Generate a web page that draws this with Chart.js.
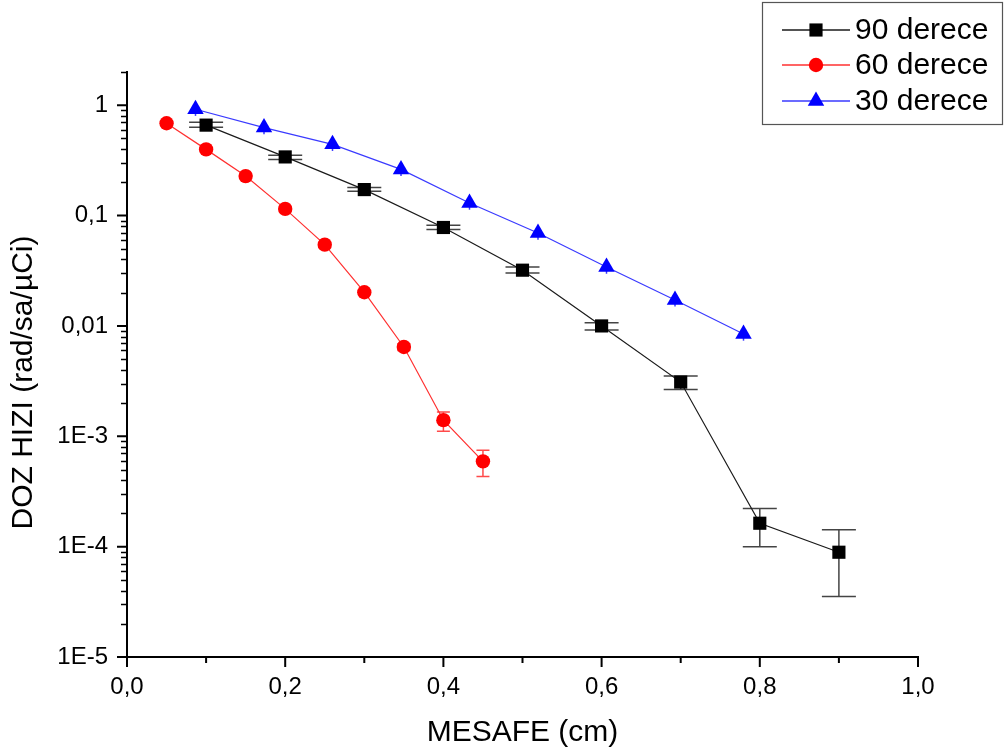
<!DOCTYPE html>
<html><head><meta charset="utf-8">
<script src="https://cdn.jsdelivr.net/npm/chart.js@4/dist/chart.umd.min.js"></script>
<style>html,body{margin:0;padding:0;background:#fff}#wrap{width:1007px;height:755px;position:relative}</style>
</head><body><div id="wrap"><canvas id="c" width="1007" height="755"></canvas></div>
<script>
const seriesNames = ['90 derece', '60 derece', '30 derece'];
const xTitle = 'MESAFE (cm)';
const yTitle = 'DOZ HIZI (rad/sa/µCi)';

const x90 = [0.1, 0.2, 0.3, 0.4, 0.5, 0.6, 0.7, 0.8, 0.9];
const y90 = [0.66, 0.34, 0.172, 0.078, 0.032, 0.0100, 0.0031, 1.63e-4, 8.9e-5];
const y90Hi = [0.70, 0.353, 0.180, 0.0816, 0.0342, 0.0107, 0.00351, 2.22e-4, 1.42e-4];
const y90Lo = [0.63, 0.323, 0.166, 0.0746, 0.0301, 0.0092, 0.00266, 1.0e-4, 3.53e-5];

const x60 = [0.05, 0.10, 0.15, 0.20, 0.25, 0.30, 0.35, 0.40, 0.45];
const y60 = [0.686, 0.398, 0.228, 0.115, 0.0545, 0.0202, 0.00645, 0.0014, 5.93e-4];
const y60Hi = [null, null, null, null, null, null, 0.0069, 0.00166, 7.46e-4];
const y60Lo = [null, null, null, null, null, null, 0.0060, 0.00111, 4.33e-4];

const x30 = [0.0866, 0.1732, 0.2598, 0.3464, 0.4330, 0.5196, 0.6062, 0.6928, 0.7794];
const y30 = [0.92, 0.627, 0.442, 0.262, 0.130, 0.0696, 0.0342, 0.0172, 0.00845];
const y30Hi = [null, null, null, null, null, null, null, null, null];
const y30Lo = [0.80, 0.545, 0.385, 0.228, 0.113, 0.0605, 0.0297, 0.0150, 0.00735];

const xTickValues = [0.0, 0.2, 0.4, 0.6, 0.8, 1.0];
const xTickLabels = ['0,0', '0,2', '0,4', '0,6', '0,8', '1,0'];
const xMinorValues = [0.1, 0.3, 0.5, 0.7, 0.9];
const yTickValues = [1e-5, 1e-4, 1e-3, 0.01, 0.1, 1];
const yTickLabels = ['1E-5', '1E-4', '1E-3', '0,01', '0,1', '1'];
const yMinorMultipliers = [2, 3, 4, 5, 6, 7, 8, 9];

const FONT = "'Liberation Sans', Arial, sans-serif";

function pts(xs, ys) { return xs.map((x, i) => ({x: x, y: ys[i]})); }

const styles = [
  {line: '#1a1a1a', fill: '#000000', shape: 'rect', r: 9.3, err: '#444444', cap: 34, lo: y90Lo, hi: y90Hi},
  {line: '#ff3030', fill: '#ff0000', shape: 'circle', r: 7.2, err: '#ff4a4a', cap: 13, lo: y60Lo, hi: y60Hi},
  {line: '#3a3aff', fill: '#0000ff', shape: 'triangle', r: 9.5, err: '#3a3aff', cap: 0, lo: y30Lo, hi: y30Hi}
];

const errorBars = {
  id: 'errorBars',
  beforeDatasetsDraw(chart) {
    const ctx = chart.ctx, xs = chart.scales.x, ys = chart.scales.y;
    chart.data.datasets.forEach((ds, di) => {
      const st = styles[di];
      ctx.save();
      ctx.strokeStyle = st.err;
      ctx.lineWidth = 1.5;
      ds.data.forEach((p, i) => {
        const lo = st.lo[i] == null ? p.y : st.lo[i];
        const hi = st.hi[i] == null ? p.y : st.hi[i];
        if (lo === p.y && hi === p.y) return;
        const px = xs.getPixelForValue(p.x);
        const pyl = ys.getPixelForValue(lo), pyh = ys.getPixelForValue(hi);
        ctx.beginPath();
        ctx.moveTo(px, pyl); ctx.lineTo(px, pyh);
        if (st.cap > 0) {
          if (st.lo[i] != null) { ctx.moveTo(px - st.cap / 2, pyl); ctx.lineTo(px + st.cap / 2, pyl); }
          if (st.hi[i] != null) { ctx.moveTo(px - st.cap / 2, pyh); ctx.lineTo(px + st.cap / 2, pyh); }
        }
        ctx.stroke();
      });
      ctx.restore();
    });
  }
};

const axisTicks = {
  id: 'axisTicks',
  afterDraw(chart) {
    const ctx = chart.ctx, xs = chart.scales.x, ys = chart.scales.y, a = chart.chartArea;
    ctx.save();
    ctx.strokeStyle = '#000';
    ctx.lineWidth = 2;
    ctx.beginPath();
    xTickValues.forEach(v => { const p = xs.getPixelForValue(v); ctx.moveTo(p, a.bottom); ctx.lineTo(p, a.bottom + 10); });
    xMinorValues.forEach(v => { const p = xs.getPixelForValue(v); ctx.moveTo(p, a.bottom); ctx.lineTo(p, a.bottom + 6); });
    yTickValues.forEach(v => { const p = ys.getPixelForValue(v); ctx.moveTo(a.left, p); ctx.lineTo(a.left - 10, p); });
    ctx.stroke();
    ctx.lineWidth = 1.5;
    ctx.beginPath();
    yTickValues.forEach(v => {
      yMinorMultipliers.forEach(m => {
        const val = v * m;
        if (val > 2.0001) return;
        const p = Math.round(ys.getPixelForValue(val)) + 0.5;
        ctx.moveTo(a.left, p); ctx.lineTo(a.left - 6, p);
      });
    });
    ctx.stroke();
    // y axis title, slightly below centre as in the reference
    ctx.translate(24, a.top + (a.bottom - a.top) / 2 + 18);
    ctx.rotate(-Math.PI / 2);
    ctx.fillStyle = '#000';
    ctx.font = '30px ' + FONT;
    ctx.textAlign = 'center';
    ctx.textBaseline = 'middle';
    ctx.fillText(yTitle, 0, 0);
    ctx.restore();
  }
};

function drawMarker(ctx, shape, x, y, r, color) {
  ctx.fillStyle = color;
  ctx.beginPath();
  if (shape === 'rect') {
    const s = r * Math.SQRT1_2;
    ctx.rect(x - s, y - s, 2 * s, 2 * s);
  } else if (shape === 'circle') {
    ctx.arc(x, y, r, 0, Math.PI * 2);
  } else {
    ctx.moveTo(x, y - r);
    ctx.lineTo(x + r * Math.sqrt(3) / 2, y + r / 2);
    ctx.lineTo(x - r * Math.sqrt(3) / 2, y + r / 2);
    ctx.closePath();
  }
  ctx.fill();
}

const legendBox = {
  id: 'legendBox',
  afterDraw(chart) {
    const ctx = chart.ctx;
    ctx.save();
    ctx.fillStyle = '#fff';
    ctx.fillRect(762, 2, 240, 122);
    ctx.strokeStyle = '#555';
    ctx.lineWidth = 1.2;
    ctx.strokeRect(762.5, 2.5, 240, 122);
    const rows = [30, 65, 101];
    seriesNames.forEach((name, i) => {
      const st = styles[i], y = rows[i];
      ctx.strokeStyle = st.line;
      ctx.lineWidth = 1.3;
      ctx.beginPath(); ctx.moveTo(782, y); ctx.lineTo(850, y); ctx.stroke();
      drawMarker(ctx, st.shape, 816, y, st.r, st.fill);
      ctx.fillStyle = '#000';
      ctx.font = '30px ' + FONT;
      ctx.textBaseline = 'middle';
      ctx.textAlign = 'left';
      ctx.fillText(name, 855, y + 1);
    });
    ctx.restore();
  }
};

const datasets = [
  {label: seriesNames[0], data: pts(x90, y90)},
  {label: seriesNames[1], data: pts(x60, y60)},
  {label: seriesNames[2], data: pts(x30, y30)}
].map((d, i) => Object.assign(d, {
  borderColor: styles[i].line,
  backgroundColor: styles[i].fill,
  borderWidth: 1.2,
  pointStyle: styles[i].shape,
  pointRadius: styles[i].r,
  pointHoverRadius: styles[i].r,
  pointBorderWidth: 0,
  pointBackgroundColor: styles[i].fill,
  pointBorderColor: styles[i].fill,
  showLine: true,
  tension: 0,
  fill: false
}));

new Chart(document.getElementById('c'), {
  type: 'scatter',
  data: {datasets: datasets},
  options: {
    responsive: false,
    animation: false,
    events: [],
    layout: {padding: {top: 72, right: 89, left: 0, bottom: 0}},
    plugins: {legend: {display: false}, tooltip: {enabled: false}},
    scales: {
      x: {
        type: 'linear', min: 0, max: 1,
        afterFit: s => { s.height = 98; },
        afterBuildTicks: s => { s.ticks = xTickValues.map(v => ({value: v})); },
        grid: {display: true, drawOnChartArea: false, drawTicks: false},
        border: {display: true, color: '#000', width: 2},
        ticks: {
          autoSkip: false, maxRotation: 0, padding: 16, color: '#000',
          font: {family: FONT, size: 24},
          callback: (v) => { const i = xTickValues.findIndex(t => Math.abs(t - v) < 1e-6); return i >= 0 ? xTickLabels[i] : ''; }
        },
        title: {display: true, text: xTitle, color: '#000', font: {family: FONT, size: 30}, padding: {top: 0, bottom: 4}}
      },
      y: {
        type: 'logarithmic', min: 1e-5, max: 2,
        afterFit: s => { s.width = 127; },
        afterBuildTicks: s => { s.ticks = yTickValues.map(v => ({value: v})); },
        grid: {display: true, drawOnChartArea: false, drawTicks: false},
        border: {display: true, color: '#000', width: 2},
        ticks: {
          autoSkip: false, padding: 19, color: '#000',
          font: {family: FONT, size: 24},
          callback: (v) => { const i = yTickValues.findIndex(t => Math.abs(Math.log10(t) - Math.log10(v)) < 1e-6); return i >= 0 ? yTickLabels[i] : ''; }
        },
        title: {display: false}
      }
    }
  },
  plugins: [errorBars, axisTicks, legendBox]
});
</script></body></html>
